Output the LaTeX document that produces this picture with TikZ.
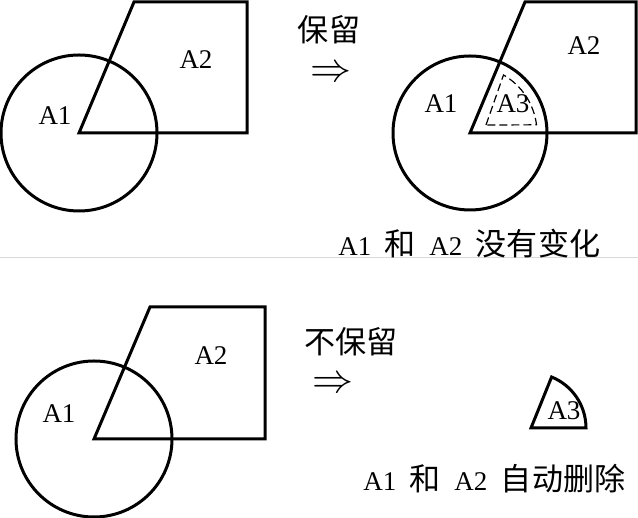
\documentclass[tikz,border=0pt]{standalone}
\usepackage{fontspec}
\setmainfont{Liberation Serif}
\newfontfamily\cjk[Scale=1.15]{Noto Sans CJK SC}
\usetikzlibrary{calc}
\begin{document}
\begin{tikzpicture}[x=0.5pt, y=0.5pt,
        outline/.style={line width=1.5pt},
        cut/.style={line width=0.6pt, dash pattern=on 4pt off 2pt},
        lbl/.style={inner sep=0pt, font=\fontsize{13.5pt}{16pt}\selectfont},
        note/.style={lbl, anchor=west},
        title/.style={lbl, text height=11pt, text depth=1pt},
        arr/.style={inner sep=0pt, font=\fontsize{10pt}{10pt}\selectfont}
    ]
        \useasboundingbox (0,0) rectangle (638,518);
        \draw[gray!30, line width=0.5pt] (0,260) -- (638,260);% divider

        % keep: before
        \coordinate (o1) at (79,385);
        \draw[outline] (o1) circle[radius=78];
        \draw[outline] (o1) -- (134,516) -- (247,516) -- (247,385) -- cycle;
        \node[lbl] (a1) at (55,402) {A1};
        \node[lbl] (a2) at (196,458) {A2};

        \node[title] (keep) at (329,486) {\cjk 保留};
        \node[arr] (go1) at (331,444) {\scalebox{2.05}{$\Rightarrow$}};

        % keep: after
        \coordinate (o2) at (470,385);
        \draw[outline] (o2) circle[radius=77];
        \draw[outline] (o2) -- (525,516) -- (636,516) -- (636,385) -- cycle;
        \draw[cut] (486,393) -- ($(o2)+(60:67)$) arc[start angle=60, end angle=7, radius=67] -- cycle;
        \node[lbl] (b1) at (441,414) {A1};
        \node[lbl] (b2) at (584,472) {A2};
        \node[lbl] (b3) at (513,414) {A3};
        \node[note] (same) at (338,274) {A1\enspace{\cjk 和}\enspace A2\enspace{\cjk 没有变化}};

        % no keep: before
        \coordinate (o3) at (94,79);
        \draw[outline] (o3) circle[radius=78];
        \draw[outline] (o3) -- (150,211) -- (265,211) -- (265,79) -- cycle;
        \node[lbl] (c1) at (59,104) {A1};
        \node[lbl] (c2) at (211,162) {A2};

        \node[title] (drop) at (351,174) {\cjk 不保留};
        \node[arr] (go2) at (333,133) {\scalebox{2.05}{$\Rightarrow$}};

        % no keep: after
        \coordinate (o4) at (531,90);
        \draw[outline] (o4) -- ++(68:55) arc[start angle=68, end angle=0, radius=55] -- cycle;
        \node[lbl] (d3) at (564,107) {A3};
        \node[note] (gone) at (363,39) {A1\enspace{\cjk 和}\enspace A2\enspace{\cjk 自动删除}};
    \end{tikzpicture}
\end{document}
